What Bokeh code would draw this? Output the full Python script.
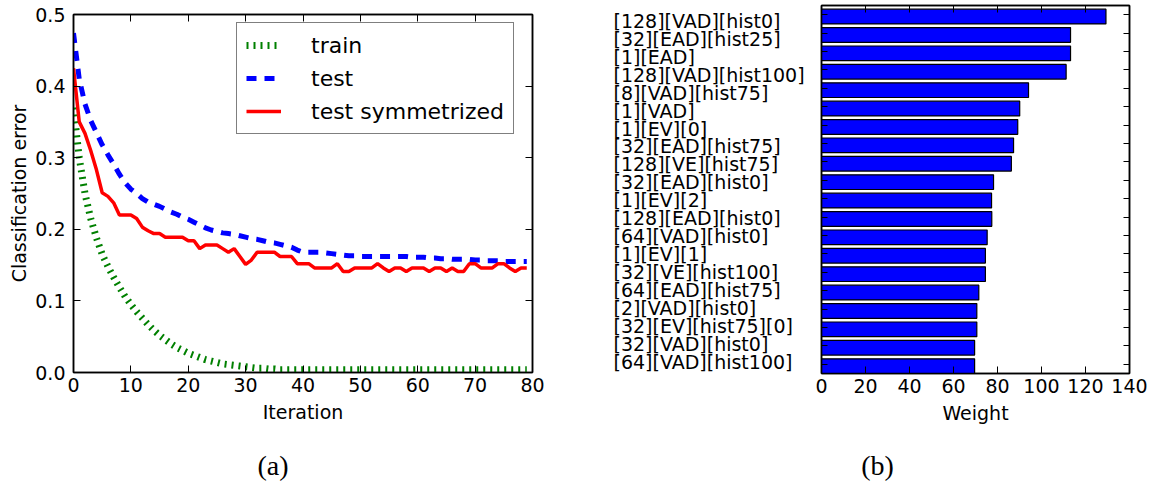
from bokeh.plotting import figure
from bokeh.layouts import row, column
from bokeh.models import (Range1d, FactorRange, FixedTicker, PrintfTickFormatter,
                          LinearAxis, CategoricalAxis, Legend, LegendItem,
                          ColumnDataSource)
from bokeh.transform import dodge
from bokeh.core.properties import value
from bokeh.embed import file_html
from bokeh.resources import INLINE

# ---------------- data ----------------
iterations = list(range(80))

train = [0.370, 0.300, 0.250, 0.215, 0.188, 0.165, 0.148, 0.133, 0.119, 0.106,
         0.095, 0.085, 0.076, 0.067, 0.059, 0.052, 0.046, 0.040, 0.035, 0.031,
         0.027, 0.024, 0.021, 0.018, 0.016, 0.014, 0.012, 0.011, 0.010, 0.009,
         0.008, 0.007, 0.006, 0.006, 0.005, 0.005, 0.004, 0.004, 0.004, 0.004,
         0.004, 0.004, 0.004, 0.004, 0.004, 0.004, 0.004, 0.004, 0.004, 0.004,
         0.004, 0.004, 0.004, 0.004, 0.004, 0.004, 0.004, 0.004, 0.004, 0.004,
         0.004, 0.004, 0.004, 0.004, 0.004, 0.004, 0.004, 0.004, 0.004, 0.004,
         0.004, 0.004, 0.004, 0.004, 0.004, 0.004, 0.004, 0.004, 0.004, 0.004]

test = [0.474, 0.410, 0.375, 0.352, 0.335, 0.318, 0.304, 0.291, 0.277, 0.265,
        0.256, 0.250, 0.243, 0.238, 0.235, 0.232, 0.228, 0.224, 0.221, 0.217,
        0.214, 0.210, 0.206, 0.202, 0.199, 0.197, 0.195, 0.194, 0.193, 0.191,
        0.189, 0.187, 0.186, 0.184, 0.182, 0.181, 0.179, 0.177, 0.175, 0.171,
        0.168, 0.168, 0.168, 0.168, 0.167, 0.166, 0.165, 0.164, 0.163, 0.163,
        0.162, 0.162, 0.162, 0.162, 0.162, 0.162, 0.162, 0.162, 0.162, 0.161,
        0.161, 0.161, 0.160, 0.160, 0.159, 0.159, 0.158, 0.158, 0.158, 0.158,
        0.157, 0.157, 0.156, 0.156, 0.156, 0.155, 0.155, 0.155, 0.155, 0.155]

test_symmetrized = [0.425, 0.350, 0.334, 0.310, 0.283, 0.251, 0.246, 0.237, 0.220, 0.220,
                    0.220, 0.215, 0.203, 0.198, 0.194, 0.194, 0.189, 0.189, 0.189, 0.189,
                    0.184, 0.184, 0.173, 0.178, 0.178, 0.178, 0.173, 0.168, 0.173, 0.162,
                    0.151, 0.157, 0.168, 0.168, 0.168, 0.168, 0.162, 0.162, 0.162, 0.152,
                    0.152, 0.152, 0.146, 0.146, 0.146, 0.146, 0.152, 0.141, 0.141, 0.146,
                    0.146, 0.146, 0.146, 0.152, 0.146, 0.141, 0.146, 0.146, 0.141, 0.146,
                    0.146, 0.146, 0.141, 0.146, 0.146, 0.141, 0.146, 0.141, 0.141, 0.152,
                    0.152, 0.146, 0.146, 0.146, 0.152, 0.152, 0.146, 0.141, 0.146, 0.146]

features = ["[128][VAD][hist0]", "[32][EAD][hist25]", "[1][EAD]", "[128][VAD][hist100]",
            "[8][VAD][hist75]", "[1][VAD]", "[1][EV][0]", "[32][EAD][hist75]",
            "[128][VE][hist75]", "[32][EAD][hist0]", "[1][EV][2]", "[128][EAD][hist0]",
            "[64][VAD][hist0]", "[1][EV][1]", "[32][VE][hist100]", "[64][EAD][hist75]",
            "[2][VAD][hist0]", "[32][EV][hist75][0]", "[32][VAD][hist0]", "[64][VAD][hist100]"]
weights = [129.3, 113.2, 113.2, 111.2, 94.1, 90.1, 89.2, 87.3, 86.3, 78.2,
           77.3, 77.4, 75.3, 74.5, 74.5, 71.5, 70.6, 70.6, 69.6, 69.6]

iter_ticks = [0, 10, 20, 30, 40, 50, 60, 70, 80]
error_ticks = [0.0, 0.1, 0.2, 0.3, 0.4, 0.5]
weight_ticks = [0, 20, 40, 60, 80, 100, 120, 140]
captions = ["(a)", "(b)"]

FONT = "DejaVu Sans"
SERIF = "Liberation Serif"
TICK_SIZE = "19px"
MAIN_H = 432
CAP_H = 482 - MAIN_H
ROW_PX = 368 / 20.0   # pixel height of one bar slot in the right panel


def style_axis(ax, show_labels=True):
    ax.major_tick_in = 7
    ax.major_tick_out = 0
    ax.minor_tick_in = 0
    ax.minor_tick_out = 0
    ax.axis_line_color = "black"
    ax.axis_line_width = 1.5
    ax.major_tick_line_color = "black"
    ax.major_tick_line_width = 1
    ax.major_label_text_font = FONT
    ax.axis_label_text_font = FONT
    ax.axis_label_text_font_size = "19px"
    ax.axis_label_text_font_style = "normal"
    ax.axis_label_text_color = "black"
    if show_labels:
        ax.major_label_text_font_size = TICK_SIZE
        ax.major_label_text_color = "black"
    else:
        # tick marks only, no tick labels drawn
        ax.major_label_text_font_size = "1px"
        ax.major_label_text_color = None
        ax.major_label_standoff = 0


def bare(fig):
    fig.outline_line_color = None
    for g in fig.grid:
        g.visible = False


COMMON = dict(output_backend="svg", toolbar_location=None, frame_align=False)

# ---------------- left panel ----------------
p1 = figure(width=560, height=MAIN_H, x_range=Range1d(0, 80), y_range=Range1d(0, 0.5),
            min_border_left=73, min_border_right=28, min_border_top=14, min_border_bottom=60,
            **COMMON)
p1.xgrid.visible = False
p1.ygrid.visible = False
p1.outline_line_color = "black"
p1.outline_line_width = 1.5

r_train = p1.line(iterations, train, line_color="#008000", line_width=7, line_dash="2 5")
r_test = p1.line(iterations, test, line_color="#0000ff", line_width=5, line_dash="10 8")
r_sym = p1.line(iterations, test_symmetrized, line_color="#ff0000", line_width=3.5)

p1.xaxis.ticker = FixedTicker(ticks=iter_ticks)
p1.yaxis.ticker = FixedTicker(ticks=error_ticks)
p1.yaxis.formatter = PrintfTickFormatter(format="%.1f")
p1.xaxis.axis_label = "Iteration"
p1.yaxis.axis_label = "Classification error"
for ax in p1.xaxis + p1.yaxis:
    style_axis(ax)
p1.xaxis.major_label_standoff = 5
p1.yaxis.major_label_standoff = 8
p1.xaxis.axis_label_standoff = 6
p1.yaxis.axis_label_standoff = 2

top1 = LinearAxis(ticker=FixedTicker(ticks=iter_ticks))
right1 = LinearAxis(ticker=FixedTicker(ticks=error_ticks))
style_axis(top1, False)
style_axis(right1, False)
p1.add_layout(top1, "above")
p1.add_layout(right1, "right")

legend = Legend(items=[LegendItem(label="train", renderers=[r_train]),
                       LegendItem(label="test", renderers=[r_test]),
                       LegendItem(label="test symmetrized", renderers=[r_sym])],
                location=(163, 238))
legend.label_text_font = FONT
legend.label_text_font_size = "22px"
legend.label_text_color = "black"
legend.glyph_width = 35
legend.glyph_height = 26
legend.label_height = 26
legend.label_standoff = 30
legend.spacing = 7
legend.padding = 9
legend.margin = 0
legend.border_line_color = "black"
legend.border_line_width = 1.5
legend.background_fill_alpha = 1.0
p1.add_layout(legend)

# ---------------- right panel ----------------
source = ColumnDataSource(dict(feature=features, weight=weights))
feat_range = FactorRange(factors=features[::-1], range_padding=0)
# label column uses the same factors, padded by 5 px top and bottom so text is not clipped
lab_range = FactorRange(factors=features[::-1], range_padding=10 / ROW_PX,
                        range_padding_units="absolute")

p_lab = figure(width=253, height=MAIN_H, x_range=Range1d(0, 1), y_range=lab_range,
               x_axis_location=None, y_axis_location=None,
               min_border_left=53, min_border_right=0, min_border_top=0, min_border_bottom=54,
               **COMMON)
bare(p_lab)
p_lab.text(x=0, y=dodge("feature", -0.1, range=lab_range), text="feature", source=source,
           text_align="left", text_baseline="middle", text_font=value(FONT),
           text_font_size=value("19px"), text_color="black")

p2 = figure(width=342, height=MAIN_H, x_range=Range1d(0, 140), y_range=feat_range,
            min_border_left=8, min_border_right=26, min_border_top=5, min_border_bottom=59,
            **COMMON)
p2.xgrid.visible = False
p2.ygrid.visible = False
p2.outline_line_color = "black"
p2.outline_line_width = 1.5

p2.hbar(y=dodge("feature", -0.1, range=feat_range), left=0, right="weight", height=0.8,
        fill_color="#0000ff", line_color="black", line_width=1.2, source=source)

p2.xaxis.ticker = FixedTicker(ticks=weight_ticks)
p2.xaxis.axis_label = "Weight"
for ax in p2.xaxis:
    style_axis(ax)
p2.xaxis.major_label_standoff = 5
p2.xaxis.axis_label_standoff = 6
for ax in p2.yaxis:
    style_axis(ax, False)
    ax.major_tick_in = 6

top2 = LinearAxis(ticker=FixedTicker(ticks=weight_ticks))
right2 = CategoricalAxis()
style_axis(top2, False)
style_axis(right2, False)
right2.major_tick_in = 6
p2.add_layout(top2, "above")
p2.add_layout(right2, "right")


# ---------------- captions ----------------
def caption_fig(width, text, left, right):
    c = figure(width=width, height=CAP_H, x_range=Range1d(0, 1), y_range=Range1d(0, 1),
               x_axis_location=None, y_axis_location=None,
               min_border_left=left, min_border_right=right, min_border_top=16,
               min_border_bottom=0, **COMMON)
    bare(c)
    c.text(x=[0.5], y=[0.5], text=[text], text_align="center", text_baseline="middle",
           text_font=value(SERIF), text_font_size=value("28px"), text_color="black")
    return c


cap1 = caption_fig(545, captions[0], 0, 0)
cap2 = caption_fig(610, captions[1], 64, 10)

layout = column(row(p1, p_lab, p2), row(cap1, cap2))
open("out.html", "w").write(file_html(layout, INLINE))
